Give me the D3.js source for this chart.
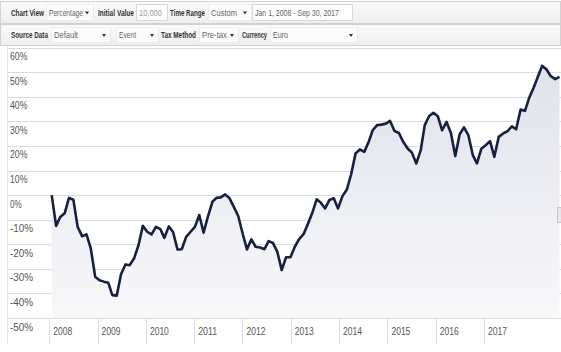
<!DOCTYPE html>
<html><head><meta charset="utf-8">
<script src="https://cdn.jsdelivr.net/npm/d3@7"></script>
<style>
body{margin:0;background:#fff}
svg{display:block;font-family:"Liberation Sans",Arial,sans-serif}
</style></head>
<body><svg id="c" width="561" height="352"></svg>
<script>
// ---- data ----
const startMonth = "2008-01";
const returns = [
  0, -12.5, -8.9, -7.4, -1.1, -1.9, -12.9, -16.7, -16.0, -21.7,
  -33.2, -34.6, -35.2, -35.7, -40.7, -40.9, -32.2, -28.2, -28.5, -25.7,
  -20.3, -12.5, -14.9, -16.0, -12.9, -13.8, -17.4, -12.7, -15.0, -22.1,
  -22.0, -17.0, -14.9, -12.9, -8.1, -15.3, -8.6, -2.7, -1.1, -0.9,
  0.3, -1.3, -4.8, -8.5, -15.6, -22.1, -18.0, -21.0, -21.3, -22.0,
  -18.7, -19.5, -23.0, -30.5, -25.3, -25.3, -21.0, -17.9, -15.9, -11.8,
  -7.3, -1.7, -3.0, -5.4, -2.0, -1.3, -5.4, -0.4, 2.3, 8.5,
  17.0, 18.6, 17.6, 21.7, 26.4, 28.5, 28.7, 29.1, 30.2, 26.1,
  25.3, 21.7, 19.0, 17.3, 12.9, 18.3, 28.5, 32.2, 33.5, 32.1,
  26.4, 29.8, 25.2, 15.9, 24.8, 27.6, 24.4, 16.3, 12.9, 18.9,
  20.3, 22.0, 15.6, 23.7, 25.1, 26.0, 28.0, 26.8, 34.8, 34.3,
  39.4, 43.5, 48.0, 52.6, 51.2, 48.4, 47.2, 48.1
];
const yTickValues = [60, 50, 40, 30, 20, 10, 0, -10, -20, -30, -40, -50];
const yearLabels = ["2008","2009","2010","2011","2012","2013","2014","2015","2016","2017"];

const row1 = [
  {type:"label", text:"Chart View", x:11, w:33},
  {type:"select", text:"Percentage", x:46, w:47, tw:34},
  {type:"label", text:"Initial Value", x:98, w:36},
  {type:"input", text:"10,000", x:136, w:31, tw:23, grey:true},
  {type:"label", text:"Time Range", x:170, w:35},
  {type:"select", text:"Custom", x:208, w:43, tw:26},
  {type:"input", text:"Jan 1, 2008 - Sep 30, 2017", x:252, w:100, tw:84}
];
const row2 = [
  {type:"label", text:"Source Data", x:11, w:37},
  {type:"select", text:"Default", x:51, w:59, tw:24},
  {type:"select", text:"Event", x:116, w:42, tw:17},
  {type:"label", text:"Tax Method", x:161, w:35},
  {type:"select", text:"Pre-tax", x:199, w:39, tw:25},
  {type:"label", text:"Currency", x:242, w:25},
  {type:"select", text:"Euro", x:270, w:87, tw:15}
];

// ---- drawing ----
const svg = d3.select("#c");
const defs = svg.append("defs");
const parse = d3.timeParse("%Y-%m");
const d0 = parse(startMonth);
const data = returns.map((v, i) => ({date: d3.timeMonth.offset(d0, i), v}));

const x = d3.scaleTime().domain(d3.extent(data, d => d.date)).range([51.7, 559.5]);
const y = d3.scaleLinear().domain([-50, 60]).range([318, 47.7]);
const xYear = d3.scaleBand().domain(yearLabels).range([49.3, 49.3 + 48.3 * yearLabels.length]).padding(0);

// text squeezed horizontally to a target width (bbox stays accurate)
function fitText(parent, str, tx, ty, width, attrs) {
  const t = parent.append("text").attr("x", 0).attr("y", 0).text(str);
  Object.entries(attrs).forEach(([k, v]) => t.attr(k, v));
  const len = t.node().getComputedTextLength();
  t.attr("transform", `translate(${tx},${ty}) scale(${width / len},1)`);
  return t;
}

// toolbar
function bar(y0, h, items, id) {
  const g = svg.append("g");
  const lg = defs.append("linearGradient").attr("id", id).attr("x1",0).attr("y1",0).attr("x2",0).attr("y2",1);
  lg.append("stop").attr("offset","0").attr("stop-color","#fafafa");
  lg.append("stop").attr("offset","1").attr("stop-color","#eeeeee");
  g.append("rect").attr("x", 0.5).attr("y", y0 + 0.5).attr("width", 560).attr("height", h)
    .attr("fill", `url(#${id})`).attr("stroke", "#d2d2d2");
  const cy = y0 + h / 2 + 0.5;
  items.forEach(it => {
    if (it.type === "label") {
      fitText(g, it.text, it.x, cy + 3, it.w, {"font-size": 9, "font-weight": "bold", fill: "#333"});
    } else {
      g.append("rect").attr("x", it.x + 0.5).attr("y", y0 + 3.5).attr("width", it.w).attr("height", h - 6)
        .attr("fill", it.type === "input" ? "#fdfdfd" : "#fbfbfb").attr("stroke", it.type === "input" ? "#d8d8d8" : "#ececec");
      fitText(g, it.text, it.x + 3, cy + 3, it.tw, {"font-size": 9, fill: it.grey ? "#9a9a9a" : "#666"});
      if (it.type === "select") {
        const ax = it.x + it.w - 6;
        g.append("path").attr("d", `M${ax - 2},${cy - 1}L${ax + 2},${cy - 1}L${ax},${cy + 2}Z`).attr("fill", "#333");
      }
    }
  });
}
bar(1, 22, row1, "tb1");
bar(24, 21, row2, "tb2");

// gridlines
svg.append("g").selectAll("line").data(yTickValues).join("line")
  .attr("x1", 7).attr("x2", 561).attr("y1", d => Math.round(y(d)) + 0.5).attr("y2", d => Math.round(y(d)) + 0.5)
  .attr("stroke", "#dcdcdc").attr("stroke-width", 1.2);

// left border
svg.append("line").attr("x1", 7.5).attr("x2", 7.5).attr("y1", 46).attr("y2", 344).attr("stroke", "#e6e6e6");

// y labels
const yl = svg.append("g");
yTickValues.forEach(d => {
  fitText(yl, d + "%", 10, y(d) + 12.5, (String(d).length + 1) * 5.8, {"font-size": 10, fill: "#555"});
});

// area
const ag = defs.append("linearGradient").attr("id", "ag").attr("gradientUnits", "userSpaceOnUse")
  .attr("x1", 0).attr("y1", y(60)).attr("x2", 0).attr("y2", y(-50));
ag.append("stop").attr("offset", "0").attr("stop-color", "#dfe1ea");
ag.append("stop").attr("offset", "1").attr("stop-color", "#f8f8fa");
svg.append("path").datum(data)
  .attr("d", d3.area().x(d => x(d.date)).y0(y(-50)).y1(d => y(d.v)))
  .attr("fill", "url(#ag)");

// x-axis year ticks and labels
const xg = svg.append("g");
xg.selectAll("line").data(yearLabels).join("line")
  .attr("x1", d => Math.round(xYear(d)) + 0.5).attr("x2", d => Math.round(xYear(d)) + 0.5)
  .attr("y1", y(-50)).attr("y2", 344).attr("stroke", "#dcdcdc");
yearLabels.forEach(d => {
  fitText(xg, d, xYear(d) + 4, 335, 19, {"font-size": 10, fill: "#555"});
});

// line
svg.append("path").datum(data)
  .attr("d", d3.line().x(d => x(d.date)).y(d => y(d.v)))
  .attr("fill", "none").attr("stroke", "#17203f").attr("stroke-width", 2.6).attr("stroke-linejoin", "round");

// small scroll handle on the right
svg.append("rect").attr("x", 557.5).attr("y", 207.5).attr("width", 4).attr("height", 15)
  .attr("fill", "#e8e8e8").attr("stroke", "#c8c8c8");
</script>
</body></html>
